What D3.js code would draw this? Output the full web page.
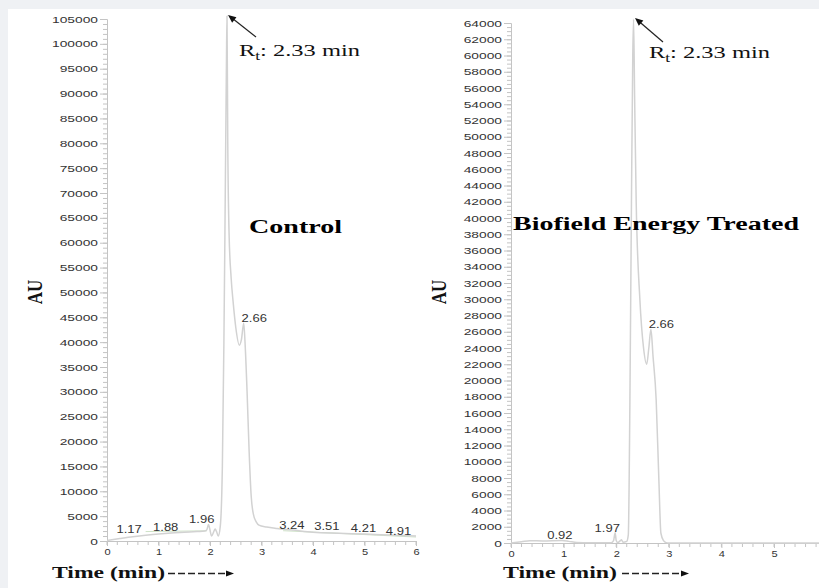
<!DOCTYPE html>
<html><head><meta charset="utf-8">
<script src="https://cdn.jsdelivr.net/npm/d3@7"></script>
<style>
html,body{margin:0;padding:0;background:#fff;}
svg{display:block;}
</style></head>
<body>
<svg id="c" width="819" height="588"></svg>
<script>
// ---------- data ----------
const controlTime = [0,0.25,0.5,0.75,1.0,1.25,1.5,1.75,1.9,1.94,1.97,2.0,2.03,2.07,2.1,2.13,2.16,2.2,2.24,2.27,2.29,2.31,2.32,2.33,2.345,2.37,2.41,2.45,2.5,2.57,2.61,2.655,2.68,2.72,2.76,2.8,2.84,2.9,2.95,3.1,3.3,3.6,4.0,4.5,5.0,5.5,6.0];
const controlAU   = [100,500,870,1150,1400,1600,1750,1900,2000,2300,3300,2200,1000,1800,2400,1800,1000,3000,15000,40000,62000,86000,97000,105600,80000,62000,53000,48000,43000,39400,40500,43800,40000,30000,18000,9000,5500,3800,3200,2800,2500,2200,1750,1550,1400,1200,1000];
const controlBaseTime = [0.75,1.94,null,3.42,6.0];
const controlBaseAU   = [1900,2050,null,2070,800];

const treatedTime = [0,0.2,0.36,0.6,0.97,1.1,1.25,1.5,1.9,1.95,1.98,2.0,2.03,2.08,2.1,2.13,2.2,2.23,2.26,2.29,2.315,2.33,2.35,2.38,2.45,2.52,2.58,2.62,2.66,2.7,2.76,2.81,2.85,2.9,2.95,3.0,6.0];
const treatedAU   = [0,150,290,250,300,200,60,20,20,300,1270,300,50,300,400,100,200,1000,17000,42000,60000,64450,55000,42000,30000,24000,22000,24000,26300,23000,17600,8000,1200,300,50,0,0];

const controlPeakLabels = ["1.17","1.88","1.96","2.66","3.24","3.51","4.21","4.91"];
const controlPeakT      = [0.43,1.14,1.84,2.86,3.59,4.27,4.98,5.66];
const controlPeakAU     = [1610,2070,3680,44040,2470,2130,1810,1130];

const treatedPeakLabels = ["0.92","1.97","2.66"];
const treatedPeakT      = [0.93,1.83,2.86];
const treatedPeakAU     = [440,1350,26500];

const controlXTicks = [0,1,2,3,4,5,6];
const treatedXTicks = [0,1,2,3,4,5];
const controlYTicks = d3.range(0,105001,5000);
const treatedYTicks = d3.range(0,64001,2000);

const retentionLabel = "2.33 min";
const titles = ["Control","Biofield Energy Treated"];

// ---------- drawing ----------
const svg = d3.select("#c");
svg.append("rect").attr("x",0).attr("y",0).attr("width",819).attr("height",9).attr("fill","#eff1f4");
svg.append("rect").attr("x",0).attr("y",0).attr("width",8).attr("height",588).attr("fill","#eff1f4");

const serif = "'Liberation Serif','Times New Roman',serif";
const sans = "'Liberation Sans',Arial,sans-serif";

function stretch(sel,k){
  sel.each(function(){
    const L=this.getComputedTextLength();
    this.setAttribute("textLength",L*k);
    this.setAttribute("lengthAdjust","spacingAndGlyphs");
  });
}

function panel(cfg){
  const g = svg.append("g");
  const x = d3.scaleLinear().domain([0,6]).range(cfg.xr);
  const y = d3.scaleLinear().domain([0,cfg.ymax]).range(cfg.yr);
  const axisCol = "#c4c4c4";

  // y minor ticks
  const minors = d3.range(0,cfg.ymax+1,cfg.minor);
  g.append("g").selectAll("line").data(minors).join("line")
    .attr("x1",cfg.xr[0]-4).attr("x2",cfg.xr[0])
    .attr("y1",d=>y(d)+0.5).attr("y2",d=>y(d)+0.5)
    .attr("stroke",axisCol).attr("stroke-width",1);
  // y axis
  const ya = g.append("g").attr("transform",`translate(${cfg.xr[0]},0)`)
    .call(d3.axisLeft(y).tickValues(cfg.yticks).tickSize(7).tickPadding(2).tickFormat(d3.format("d")));
  ya.select(".domain").attr("stroke",axisCol);
  ya.selectAll(".tick line").attr("stroke",axisCol);
  ya.selectAll("text").attr("font-family",sans).attr("font-size","9.5px").attr("fill","#333");
  stretch(ya.selectAll("text"),1.45);

  // x minor ticks
  const xm = d3.range(0,6.001,0.2);
  g.append("g").selectAll("line").data(xm).join("line")
    .attr("x1",d=>x(d)).attr("x2",d=>x(d))
    .attr("y1",cfg.yr[0]).attr("y2",cfg.yr[0]+4)
    .attr("stroke",axisCol);
  const xa = g.append("g").attr("transform",`translate(0,${cfg.yr[0]})`)
    .call(d3.axisBottom(x).tickValues(cfg.xticks).tickSize(5).tickPadding(3).tickFormat(d3.format("d")));
  xa.select(".domain").attr("stroke",axisCol);
  xa.selectAll(".tick line").attr("stroke",axisCol);
  xa.selectAll("text").attr("font-family",sans).attr("font-size","8.5px").attr("fill","#333");
  stretch(xa.selectAll("text"),1.3);

  // baseline (integration) line
  if(cfg.bt){
    const bd = cfg.bt.map((t,i)=>({t,v:cfg.bv[i]}));
    g.append("path").datum(bd)
      .attr("d",d3.line().defined(d=>d.t!==null).x(d=>x(d.t)).y(d=>y(d.v)))
      .attr("fill","none").attr("stroke","#cfe3c8").attr("stroke-width",1);
  }
  // trace
  const data = cfg.t.map((t,i)=>({t,v:cfg.v[i]}));
  g.append("path").datum(data)
    .attr("d",d3.line().x(d=>x(d.t)).y(d=>y(d.v)).curve(d3.curveMonotoneX))
    .attr("fill","none").attr("stroke","#d2d2d2").attr("stroke-width",1.5);

  // peak labels
  const pl = g.append("g").selectAll("text").data(cfg.pl).join("text")
    .attr("x",(d,i)=>x(cfg.pt[i])).attr("y",(d,i)=>y(cfg.pv[i]))
    .attr("text-anchor","middle").attr("font-family",sans).attr("font-size","10px").attr("fill","#333")
    .text(d=>d);
  stretch(pl,1.3);

  // title
  g.append("text").attr("x",cfg.title.x).attr("y",cfg.title.y)
    .attr("font-family",serif).attr("font-weight","bold").attr("font-size",cfg.title.fs+"px")
    .attr("textLength",cfg.title.w).attr("lengthAdjust","spacingAndGlyphs")
    .text(cfg.title.text);

  // Rt annotation
  const rt = g.append("text").attr("x",cfg.rt.x).attr("y",cfg.rt.y)
    .attr("font-family",serif).attr("font-size","17px").attr("fill","#111")
    .attr("textLength",121).attr("lengthAdjust","spacingAndGlyphs");
  rt.append("tspan").text("R");
  rt.append("tspan").attr("dy",4).attr("font-size","12px").text("t");
  rt.append("tspan").attr("dy",-4).text(": " + retentionLabel);

  // arrow
  const a = cfg.arrow;
  const ang = Math.atan2(a.y2-a.y1,a.x2-a.x1);
  g.append("line").attr("x1",a.x1).attr("y1",a.y1)
    .attr("x2",a.x2-Math.cos(ang)*5).attr("y2",a.y2-Math.sin(ang)*5)
    .attr("stroke","#222").attr("stroke-width",1.2);
  const hl=8, hw=3.5;
  const bx=a.x2-Math.cos(ang)*hl, by=a.y2-Math.sin(ang)*hl;
  g.append("path").attr("d",`M${a.x2},${a.y2}L${bx+Math.sin(ang)*hw},${by-Math.cos(ang)*hw}L${bx-Math.sin(ang)*hw},${by+Math.cos(ang)*hw}Z`)
    .attr("fill","#111");

  // AU
  g.append("text").attr("transform",`translate(${cfg.au.x},${cfg.au.y}) rotate(-90) scale(1,1.2)`)
    .attr("text-anchor","middle").attr("dy","0.35em")
    .attr("font-family",serif).attr("font-weight","bold").attr("font-size","17px").attr("fill","#111")
    .text("AU");

  // Time (min) with dashed arrow
  g.append("text").attr("x",cfg.time.x).attr("y",578)
    .attr("font-family",serif).attr("font-weight","bold").attr("font-size","16px").attr("fill","#111")
    .attr("textLength",cfg.time.w).attr("lengthAdjust","spacingAndGlyphs")
    .text("Time (min)");
  g.append("line").attr("x1",cfg.time.ax1).attr("x2",cfg.time.ax2-7)
    .attr("y1",573.5).attr("y2",573.5).attr("stroke","#222").attr("stroke-width",1.3)
    .attr("stroke-dasharray","7,3");
  g.append("path").attr("d",`M${cfg.time.ax2},573.5L${cfg.time.ax2-8},570.5L${cfg.time.ax2-8},576.5Z`).attr("fill","#111");
}

panel({
  xr:[107,416], yr:[541,19], ymax:105000, minor:1000, yticks:controlYTicks, xticks:controlXTicks,
  t:controlTime, v:controlAU, bt:controlBaseTime, bv:controlBaseAU,
  pl:controlPeakLabels, pt:controlPeakT, pv:controlPeakAU,
  title:{text:titles[0], x:249, y:233, fs:19, w:93},
  rt:{x:239, y:56},
  arrow:{x1:256, y1:37, x2:228, y2:15},
  au:{x:35, y:292},
  time:{x:52, w:113, ax1:168, ax2:234}
});
panel({
  xr:[511,826.6], yr:[543,23], ymax:64000, minor:500, yticks:treatedYTicks, xticks:treatedXTicks,
  t:treatedTime, v:treatedAU, bt:null,
  pl:treatedPeakLabels, pt:treatedPeakT, pv:treatedPeakAU,
  title:{text:titles[1], x:513, y:230, fs:18, w:286},
  rt:{x:649, y:58},
  arrow:{x1:663, y1:42, x2:635, y2:18},
  au:{x:439, y:292},
  time:{x:503, w:114, ax1:622, ax2:689}
});
</script>
</body></html>
